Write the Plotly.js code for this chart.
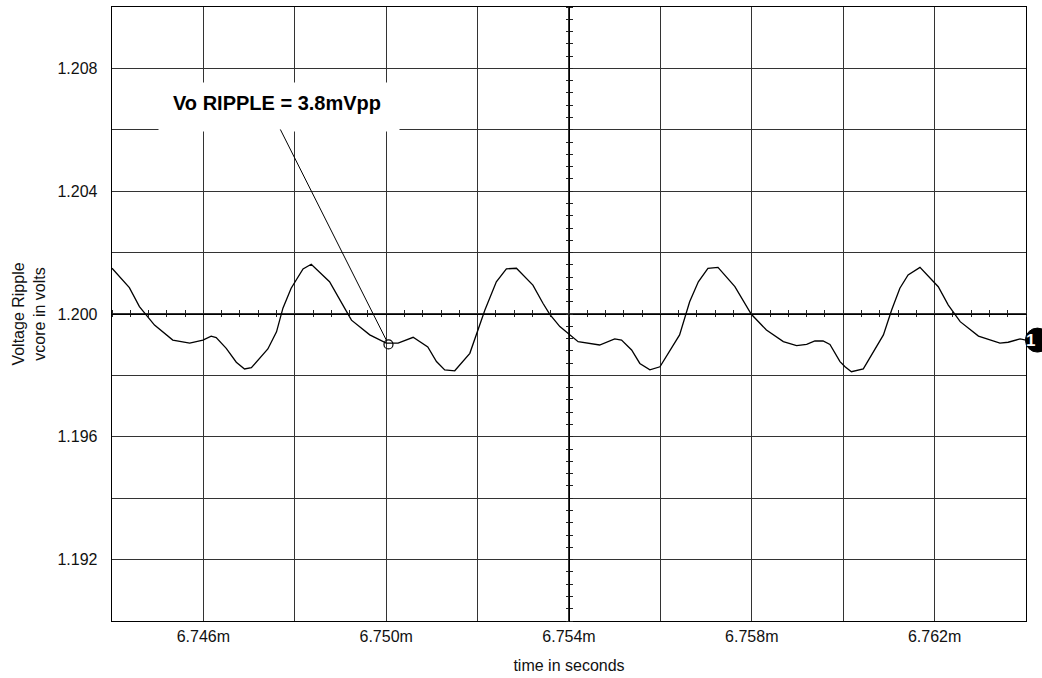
<!DOCTYPE html>
<html>
<head>
<meta charset="utf-8">
<script src="https://cdn.plot.ly/plotly-3.0.1.min.js"></script>
<style>
  html, body { margin: 0; padding: 0; background: #fff; }
  #chart { width: 1042px; height: 678px; }
</style>
</head>
<body>
<div id="chart"></div>
<script>
// time in milliseconds (tick labels show "m" suffix)
const timeMs = [
  6.74400, 6.74438, 6.74460, 6.74478, 6.74493, 6.74533, 6.74570, 6.74599, 6.74617, 6.74628,
  6.74650, 6.74672, 6.74690, 6.74705, 6.74741, 6.74760, 6.74774, 6.74792, 6.74818, 6.74836,
  6.74876, 6.74909, 6.74924, 6.74964, 6.75000, 6.75026, 6.75059, 6.75091, 6.75110, 6.75128,
  6.75150, 6.75183, 6.75197, 6.75216, 6.75241, 6.75263, 6.75285, 6.75321, 6.75343, 6.75358,
  6.75380, 6.75399, 6.75420, 6.75467, 6.75500, 6.75515, 6.75537, 6.75555, 6.75577, 6.75599,
  6.75642, 6.75664, 6.75683, 6.75704, 6.75726, 6.75763, 6.75799, 6.75832, 6.75869, 6.75898,
  6.75920, 6.75938, 6.75956, 6.75971, 6.75993, 6.76004, 6.76018, 6.76044, 6.76088, 6.76106,
  6.76124, 6.76142, 6.76168, 6.76208, 6.76230, 6.76256, 6.76296, 6.76343, 6.76361, 6.76387,
  6.76400
];
const vcore = [
  1.20149, 1.20086, 1.20024, 1.19991, 1.19964, 1.19915, 1.19905, 1.19915, 1.19928, 1.19923,
  1.19888, 1.19843, 1.19821, 1.19825, 1.19886, 1.19942, 1.20019, 1.20084, 1.20147, 1.20162,
  1.20105, 1.20019, 1.19980, 1.19932, 1.19905, 1.19905, 1.19924, 1.19893, 1.19845, 1.19818,
  1.19815, 1.19872, 1.19932, 1.20013, 1.20105, 1.20147, 1.20149, 1.20094, 1.20035, 1.19999,
  1.19959, 1.19935, 1.19910, 1.19899, 1.19919, 1.19915, 1.19883, 1.19839, 1.19818, 1.19828,
  1.19932, 1.20040, 1.20105, 1.20149, 1.20152, 1.20089, 1.19999, 1.19948, 1.19910, 1.19897,
  1.19901, 1.19912, 1.19912, 1.19901, 1.19845, 1.19828, 1.19812, 1.19821, 1.19932, 1.20013,
  1.20084, 1.20127, 1.20152, 1.20089, 1.20029, 1.19975, 1.19928, 1.19905, 1.19908, 1.19919,
  1.19915
];
// grid / tick positions and labels
const xTickVals = [6.744, 6.746, 6.748, 6.750, 6.752, 6.754, 6.756, 6.758, 6.760, 6.762, 6.764];
const xTickText = ["", "6.746m", "", "6.750m", "", "6.754m", "", "6.758m", "", "6.762m", ""];
const yTickVals = [1.190, 1.192, 1.194, 1.196, 1.198, 1.200, 1.202, 1.204, 1.206, 1.208, 1.210];
const yTickText = ["", "1.192", "", "1.196", "", "1.200", "", "1.204", "", "1.208", ""];
// callout point on the curve
const calloutX = [6.75005];
const calloutY = [1.19901];
const calloutText = "Vo RIPPLE = 3.8mVpp";
const traceLabel = "1";

const FONT = "Liberation Sans, Arial, Helvetica, sans-serif";
const GRID = "#333";
const xRange = [6.744, 6.764];
const yRange = [1.19, 1.21];

const traces = [
  {
    x: timeMs, y: vcore, type: "scatter", mode: "lines",
    line: { color: "#000", width: 1.3 }, hoverinfo: "skip", showlegend: false
  },
  {
    x: calloutX, y: calloutY, type: "scatter", mode: "markers",
    marker: { symbol: "circle-open", size: 9, color: "#000", line: { width: 1.2, color: "#000" } },
    hoverinfo: "skip", showlegend: false
  },
  { x: [], y: [], xaxis: "x2", yaxis: "y2", type: "scatter", showlegend: false },
  { x: [], y: [], xaxis: "x3", yaxis: "y3", type: "scatter", showlegend: false }
];

const centreX = {
  overlaying: "x", anchor: "free", position: 0.5, range: xRange,
  showgrid: false, zeroline: false, showticklabels: false,
  showline: true, linecolor: "#000", linewidth: 1.2,
  tickmode: "linear", tick0: 6.744, dtick: 0.0004, tickcolor: "#222", tickwidth: 1
};
const centreY = {
  overlaying: "y", anchor: "free", position: 0.5, range: yRange,
  showgrid: false, zeroline: false, showticklabels: false,
  showline: true, linecolor: "#000", linewidth: 1.2,
  tickmode: "linear", tick0: 1.19, dtick: 0.0004, tickcolor: "#222", tickwidth: 1
};

const layout = {
  width: 1042, height: 678,
  margin: { l: 112, r: 16, t: 7, b: 57 },
  paper_bgcolor: "#fff", plot_bgcolor: "#fff",
  font: { family: FONT, size: 16, color: "#111" },
  showlegend: false,
  xaxis: {
    range: xRange, tickmode: "array", tickvals: xTickVals, ticktext: xTickText, ticks: "",
    showgrid: true, gridcolor: GRID, gridwidth: 1.2,
    showline: true, mirror: true, linecolor: "#000", linewidth: 1.3,
    zeroline: false, tickfont: { size: 16 },
    title: { text: "time in seconds", font: { size: 16 }, standoff: 16 }
  },
  yaxis: {
    range: yRange, tickmode: "array", tickvals: yTickVals, ticktext: yTickText, ticks: "",
    ticklabelstandoff: 10,
    showgrid: true, gridcolor: GRID, gridwidth: 1.2,
    showline: true, mirror: true, linecolor: "#000", linewidth: 1.3,
    zeroline: false, tickfont: { size: 16 },
    title: { text: "Voltage Ripple<br>vcore in volts", font: { size: 16 }, standoff: 8 }
  },
  xaxis2: Object.assign({}, centreX, { side: "top", ticks: "outside", ticklen: 4 }),
  xaxis3: Object.assign({}, centreX, { side: "bottom", ticks: "outside", ticklen: 2 }),
  yaxis2: Object.assign({}, centreY, { side: "left", ticks: "outside", ticklen: 3 }),
  yaxis3: Object.assign({}, centreY, { side: "right", ticks: "outside", ticklen: 3 }),
  annotations: [
    {
      // white label box that hides the grid behind the callout text
      xref: "x", yref: "y", x: 6.747645, y: 1.20674,
      text: " ", showarrow: false,
      bgcolor: "#fff", width: 240, height: 48, borderpad: 0,
      font: { family: FONT, size: 20, color: "#000" }
    },
    {
      xref: "x", yref: "y", x: 6.74762, y: 1.20687,
      text: "<b>" + calloutText + "</b>", showarrow: false,
      font: { family: FONT, size: 20, color: "#000" }
    },
    {
      xref: "x", yref: "y", x: calloutX[0], y: calloutY[0],
      axref: "x", ayref: "y", ax: 6.747667, ay: 1.20606,
      text: "", showarrow: true, arrowhead: 0, arrowwidth: 1, arrowcolor: "#000", standoff: 4.5
    },
    {
      xref: "paper", yref: "y", x: 1.0125, y: vcore[vcore.length - 1],
      text: "<b>" + traceLabel + "</b>", showarrow: false,
      font: { family: FONT, size: 17, color: "#fff" }
    }
  ],
  shapes: [
    {
      type: "circle", xref: "paper", yref: "y",
      xsizemode: "pixel", ysizemode: "pixel",
      xanchor: 1.0125, yanchor: vcore[vcore.length - 1],
      x0: -12, x1: 12, y0: -12, y1: 12,
      fillcolor: "#000", line: { color: "#000", width: 1 }, layer: "above"
    }
  ]
};

Plotly.newPlot("chart", traces, layout, { displayModeBar: false, staticPlot: true });
</script>
</body>
</html>
